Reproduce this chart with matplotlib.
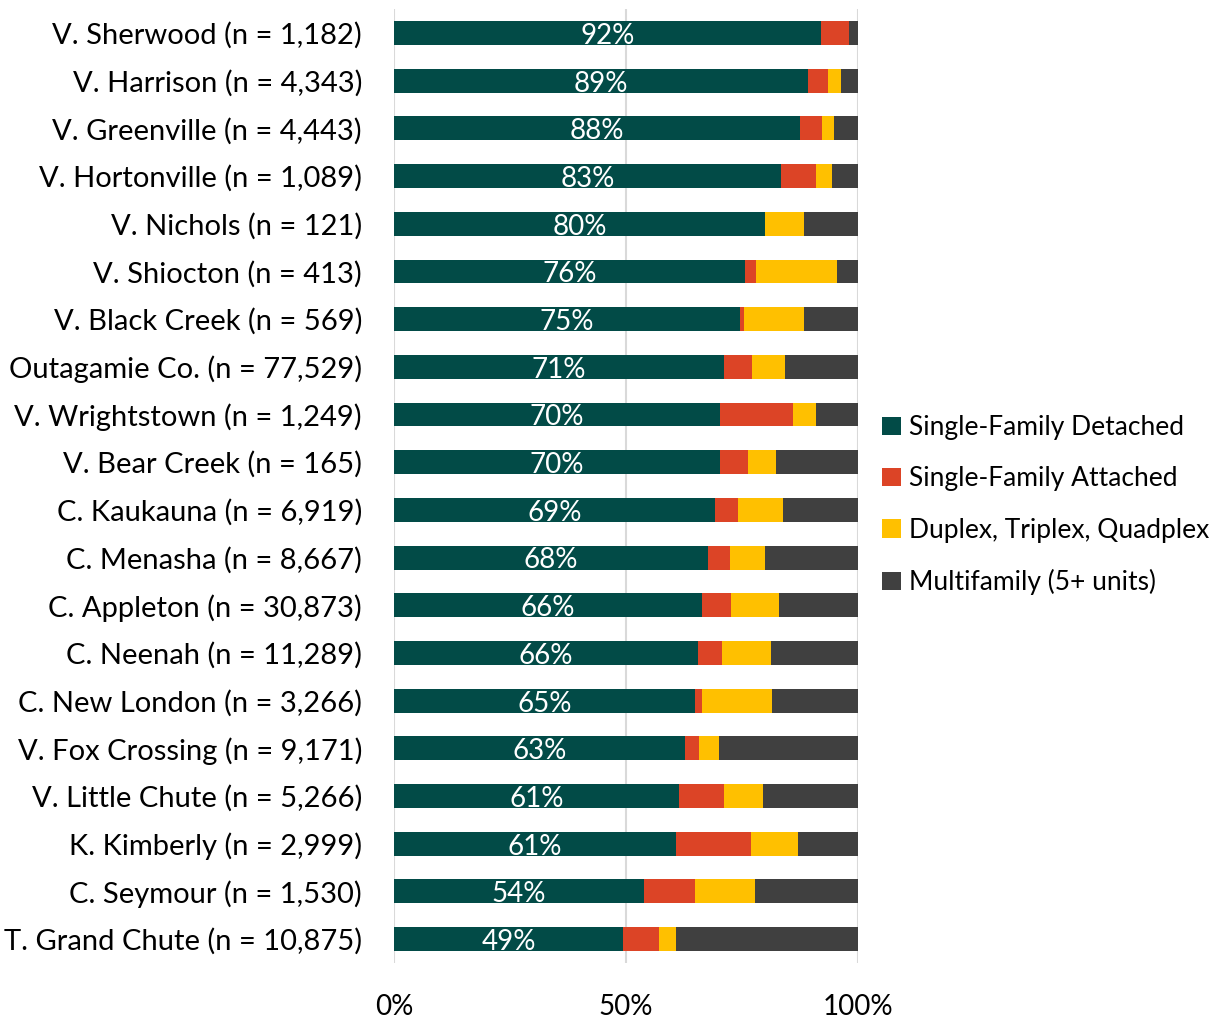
import matplotlib.pyplot as plt
import numpy as np

plt.rcParams['font.family'] = ['Lato', 'DejaVu Sans']

places = ['V. Sherwood (n = 1,182)', 'V. Harrison (n = 4,343)', 'V. Greenville (n = 4,443)',
          'V. Hortonville (n = 1,089)', 'V. Nichols (n = 121)', 'V. Shiocton (n = 413)',
          'V. Black Creek (n = 569)', 'Outagamie Co. (n = 77,529)', 'V. Wrightstown (n = 1,249)',
          'V. Bear Creek (n = 165)', 'C. Kaukauna (n = 6,919)', 'C. Menasha (n = 8,667)',
          'C. Appleton (n = 30,873)', 'C. Neenah (n = 11,289)', 'C. New London (n = 3,266)',
          'V. Fox Crossing (n = 9,171)', 'V. Little Chute (n = 5,266)', 'K. Kimberly (n = 2,999)',
          'C. Seymour (n = 1,530)', 'T. Grand Chute (n = 10,875)']

sf_detached = [92.1, 89.3, 87.5, 83.4, 80.0, 75.7, 74.6, 71.1, 70.3, 70.3,
               69.2, 67.7, 66.4, 65.6, 64.9, 62.7, 61.4, 60.8, 53.9, 49.4]
sf_attached = [6.0, 4.2, 4.8, 7.6, 0.0, 2.4, 0.8, 6.1, 15.8, 6.0,
               4.9, 4.7, 6.2, 5.1, 1.5, 3.0, 9.8, 16.1, 11.1, 7.7]
plex = [0.0, 3.0, 2.5, 3.5, 8.4, 17.5, 13.0, 7.1, 5.0, 6.1,
        9.7, 7.7, 10.5, 10.6, 15.1, 4.4, 8.3, 10.2, 12.9, 3.7]
multi = [1.9, 3.5, 5.2, 5.5, 11.6, 4.4, 11.6, 15.7, 8.9, 17.6,
         16.2, 19.9, 16.9, 18.7, 18.5, 29.9, 20.5, 12.9, 22.1, 39.2]
labels = ['92%', '89%', '88%', '83%', '80%', '76%', '75%', '71%', '70%', '70%',
          '69%', '68%', '66%', '66%', '65%', '63%', '61%', '61%', '54%', '49%']

series = [('Single-Family Detached', sf_detached, '#024B47'),
          ('Single-Family Attached', sf_attached, '#DC4426'),
          ('Duplex, Triplex, Quadplex', plex, '#FFC000'),
          ('Multifamily (5+ units)', multi, '#404040')]

fig = plt.figure(figsize=(12.2, 10.19), dpi=100)
ax = fig.add_axes([0.323, 0.055, 0.380, 0.936])

y = np.arange(len(places))
left = np.zeros(len(places))
for name, vals, col in series:
    vals = np.array(vals)
    ax.barh(y, vals, left=left, height=0.5, color=col, label=name, zorder=2)
    left += vals

for i, lab in enumerate(labels):
    ax.text(sf_detached[i] / 2, y[i] + 0.06, lab, color='white', fontsize=20,
            ha='center', va='center', zorder=3)

ax.set_xlim(0, 100)
ax.set_ylim(19.5, -0.5)
ax.set_yticks(y)
ax.set_yticklabels(places, fontsize=21)
ax.set_xticks([0, 50, 100])
ax.set_xticklabels(['0%', '50%', '100%'], fontsize=20)
ax.tick_params(axis='y', length=0, pad=23)
ax.tick_params(axis='x', length=0, pad=22)
ax.grid(axis='x', color='#D9D9D9', linewidth=1.5, zorder=0)
for s in ax.spines.values():
    s.set_visible(False)

ax.legend(loc='center left', bbox_to_anchor=(1.002, 0.48), frameon=False, fontsize=19,
          handlelength=0.7, handleheight=0.7, handletextpad=0.3, labelspacing=1.0)

plt.savefig('out.png', dpi=100)
